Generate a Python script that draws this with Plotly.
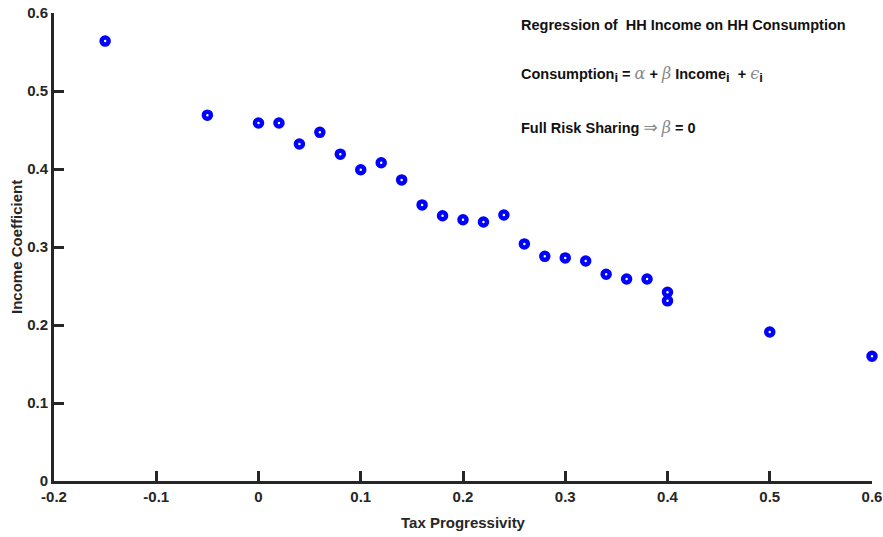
import plotly.graph_objects as go

tax_progressivity = [-0.15, -0.05, 0.0, 0.02, 0.04, 0.06, 0.08, 0.10, 0.12, 0.14, 0.16, 0.18, 0.20,
                     0.22, 0.24, 0.26, 0.28, 0.30, 0.32, 0.34, 0.36, 0.38, 0.40, 0.40, 0.50, 0.60]
income_coef = [0.564, 0.469, 0.459, 0.459, 0.432, 0.447, 0.419, 0.399, 0.408, 0.386, 0.354, 0.340, 0.335,
               0.332, 0.341, 0.304, 0.288, 0.286, 0.282, 0.265, 0.259, 0.259, 0.242, 0.231, 0.191, 0.160]

x_ticks = [-0.2, -0.1, 0, 0.1, 0.2, 0.3, 0.4, 0.5, 0.6]
x_ticklabels = ["-0.2", "-0.1", "0", "0.1", "0.2", "0.3", "0.4", "0.5", "0.6"]
y_ticks = [0, 0.1, 0.2, 0.3, 0.4, 0.5, 0.6]
y_ticklabels = ["0", "0.1", "0.2", "0.3", "0.4", "0.5", "0.6"]

FONT = "Liberation Sans, Arial, sans-serif"
AX = "#262626"

fig = go.Figure()
fig.add_trace(go.Scatter(
    x=tax_progressivity, y=income_coef, mode="markers",
    marker=dict(symbol="circle", size=7, color="white", line=dict(color="#0000ff", width=4.5)),
    cliponaxis=False, showlegend=False,
))

axis_common = dict(
    showline=True, linewidth=3, linecolor=AX, ticks="inside", ticklen=10, tickwidth=3,
    tickcolor=AX, showgrid=False, zeroline=False, mirror=False, automargin=False,
    tickfont=dict(family=FONT, size=15, color=AX, weight="bold"),
)

fig.update_xaxes(range=[-0.2, 0.6], tickvals=x_ticks, ticktext=x_ticklabels,
                 title=dict(text="Tax Progressivity", font=dict(family=FONT, size=15, color=AX, weight="bold"),
                            standoff=14),
                 **axis_common)
fig.update_yaxes(range=[0, 0.6], tickvals=y_ticks, ticktext=y_ticklabels, **axis_common)

fig.add_annotation(x=-0.0465, y=0.5, xref="paper", yref="paper", xanchor="center", yanchor="middle",
                   text="Income Coefficient", textangle=-90, showarrow=False,
                   font=dict(family=FONT, size=15, color=AX, weight="bold"))

greek = "<span style='font-family:DejaVu Serif, serif;font-weight:normal;font-style:italic;color:#888;font-size:16px'>{}</span>"
arrow = "<span style='font-family:DejaVu Sans, sans-serif;font-weight:normal;color:#888;font-size:17px'>⇒</span>"
sub = "<sub><span style='font-size:13px'>i</span></sub>"
lines = [
    ("Regression of  HH Income on HH Consumption", 0.974),
    ("Consumption" + sub + " = " + greek.format("α") + " + " + greek.format("β") +
     " Income" + sub + "  + " + greek.format("ϵ") + sub, 0.868),
    ("Full Risk Sharing " + arrow + " " + greek.format("β") + " = 0", 0.756),
]
for txt, yy in lines:
    fig.add_annotation(x=0.5685, y=yy, xref="paper", yref="paper", xanchor="left", yanchor="middle",
                       text=txt, showarrow=False,
                       font=dict(family=FONT, size=14.5, color="#111", weight="bold"))

fig.update_layout(
    width=883, height=537,
    margin=dict(l=54, r=11, t=13, b=56),
    paper_bgcolor="white", plot_bgcolor="white",
    font=dict(family=FONT, weight="bold"),
)

fig.write_html("out.html")
